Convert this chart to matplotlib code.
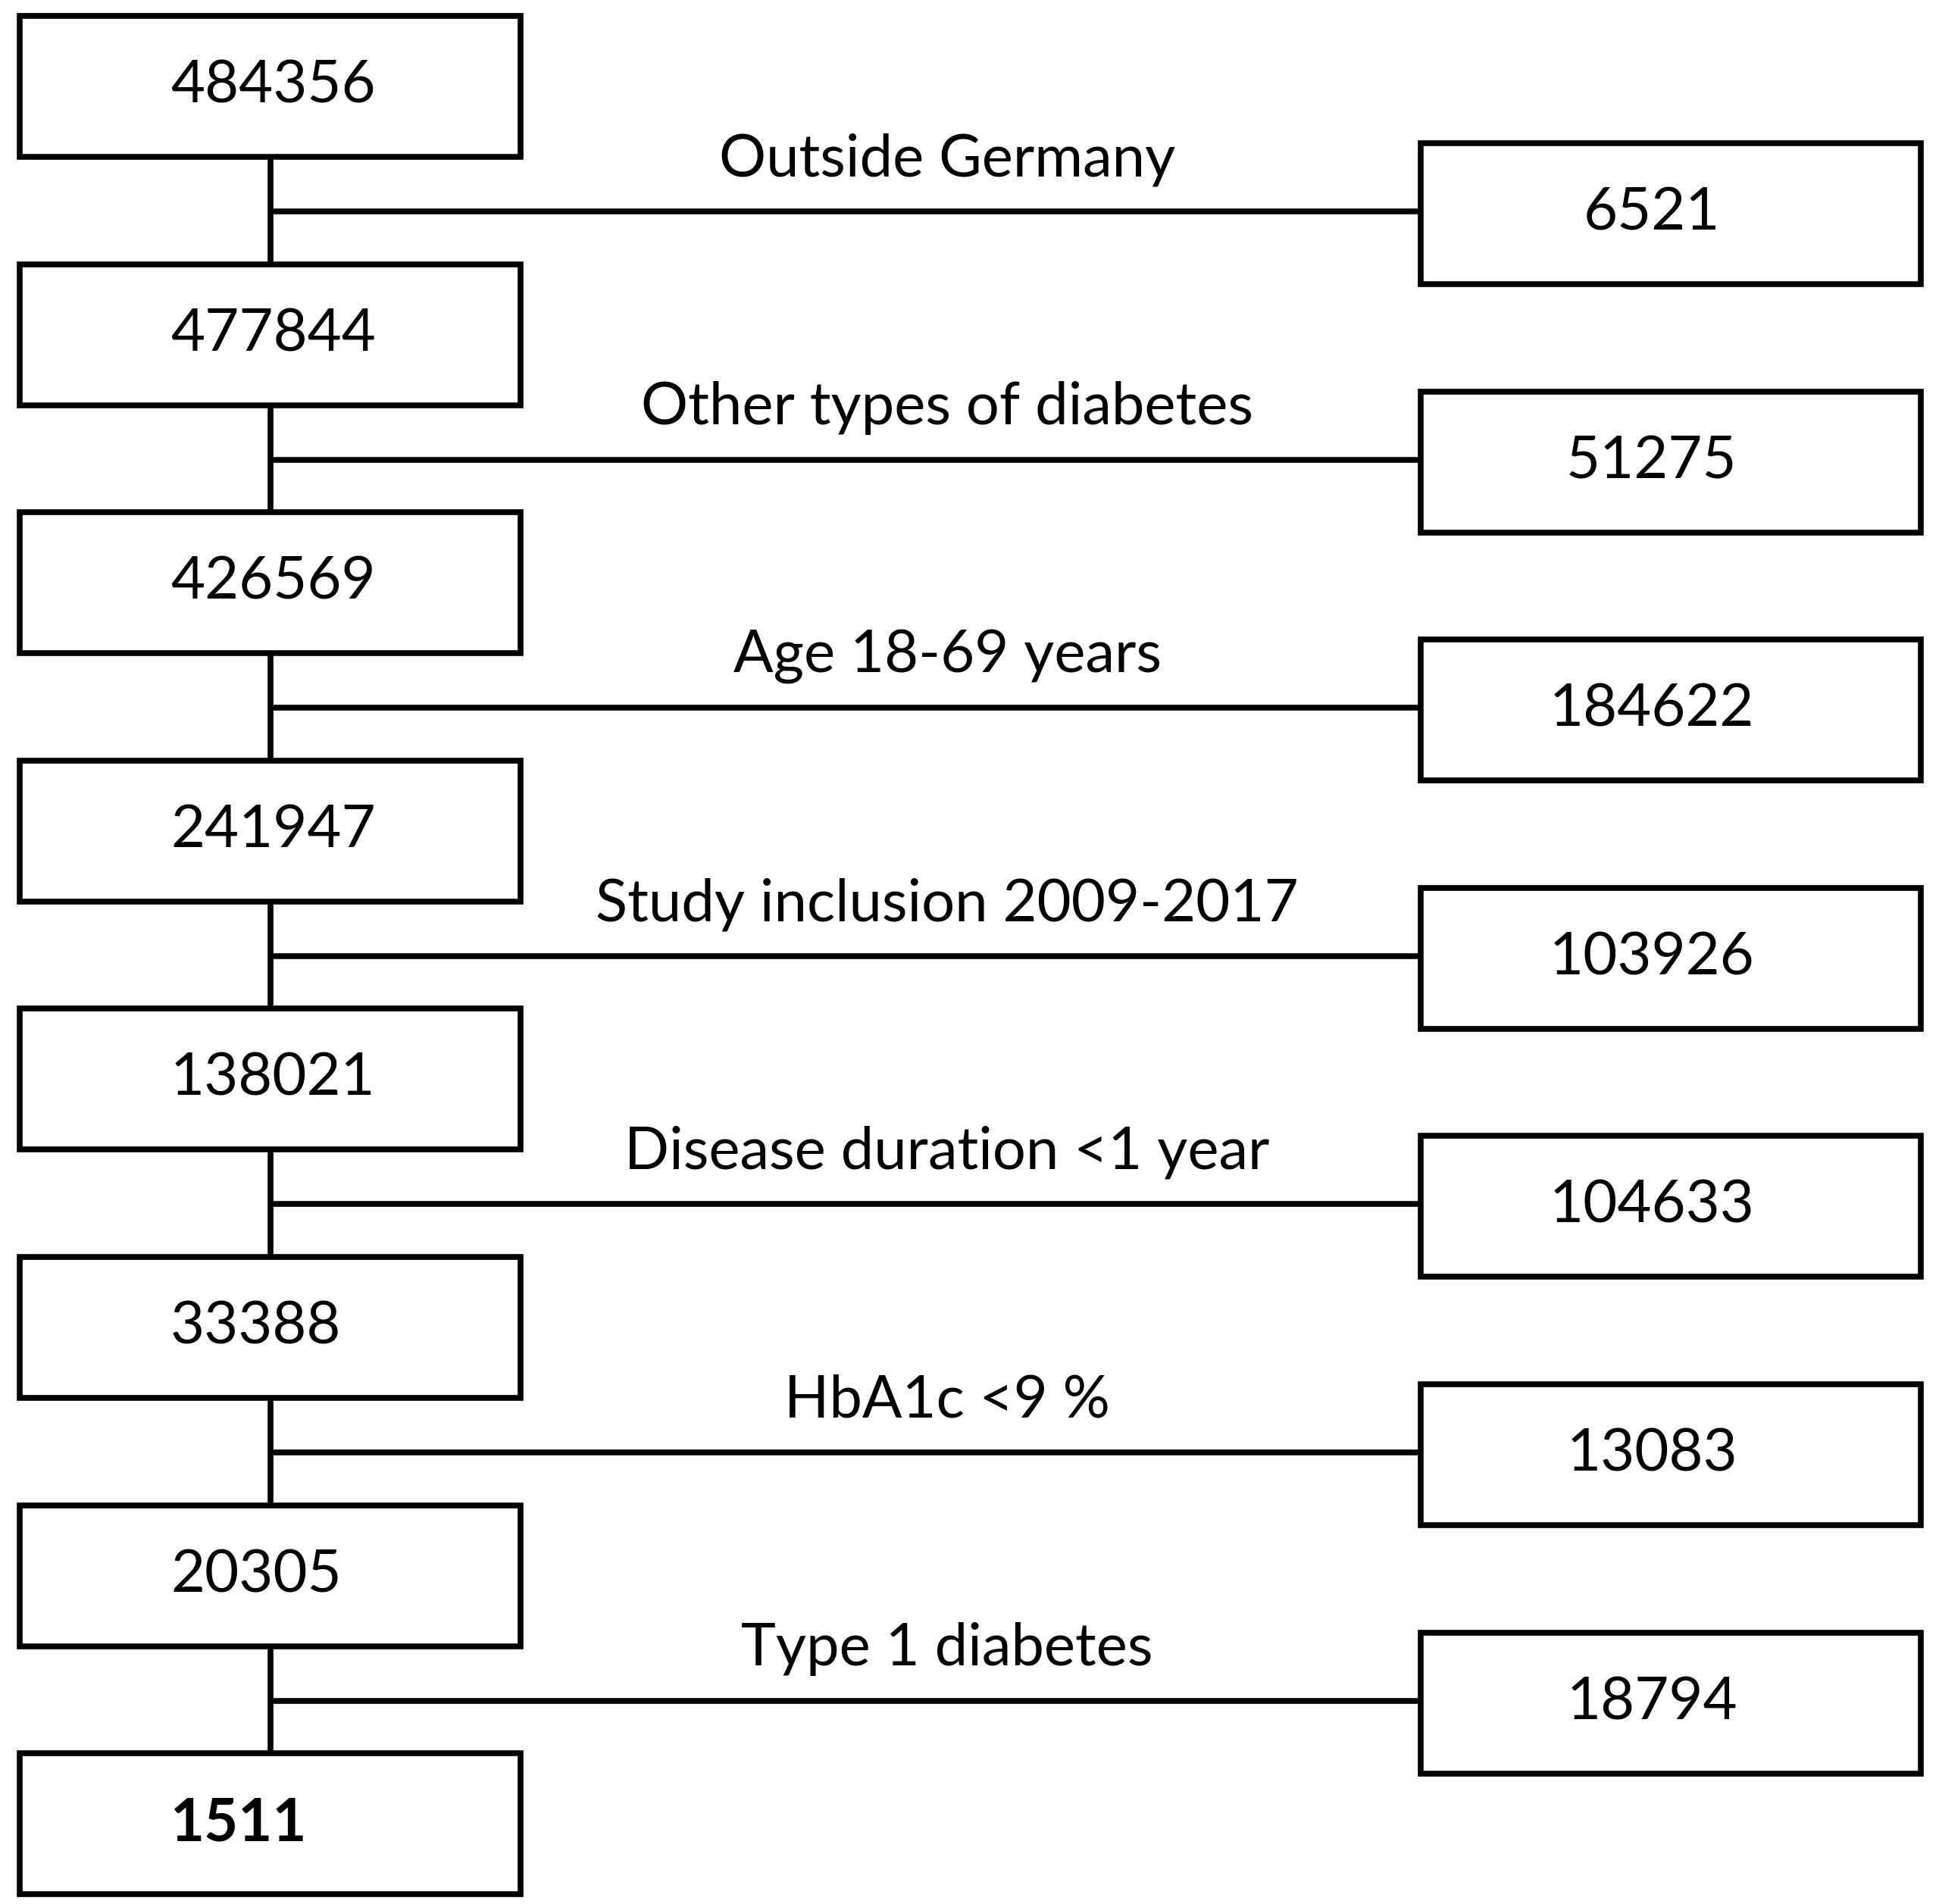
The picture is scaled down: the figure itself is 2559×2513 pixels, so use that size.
# Flow chart of patient selection (boxes + connector lines)
import matplotlib.pyplot as plt
from matplotlib.patches import Rectangle

plt.rcParams['font.family'] = ['Lato', 'DejaVu Sans']

# data
remaining = [484356, 477844, 426569, 241947, 138021, 33388, 20305, 1511]
exclusion_labels = ['Outside Germany', 'Other types of diabetes', 'Age 18-69 years',
                    'Study inclusion 2009-2017', 'Disease duration <1 year',
                    'HbA1c <9 %', 'Type 1 diabetes']
excluded = [6521, 51275, 184622, 103926, 104633, 13083, 18794]

# layout (figure pixels)
W, H = 2559, 2513
row_top0, row_step = 21, 327.6
box_h = 186
left_x0, left_x1 = 26, 687
right_x0, right_x1 = 1875, 2535
trunk_x = 357
lw = 5.5

fig = plt.figure(figsize=(W / 100, H / 100), dpi=100)
ax = fig.add_axes([0, 0, 1, 1])
ax.set_xlim(0, W)
ax.set_ylim(H, 0)
ax.axis('off')

def box(x0, x1, top):
    ax.add_patch(Rectangle((x0, top), x1 - x0, box_h, fill=False,
                           edgecolor='black', linewidth=lw, joinstyle='miter'))

# left column: remaining patients
for i, n in enumerate(remaining):
    top = row_top0 + i * row_step
    box(left_x0, left_x1, top)
    ax.text(225, top + box_h / 2, str(n), fontsize=56, ha='left', va='center',
            fontweight='bold' if i == len(remaining) - 1 else 'normal')
    if i < len(remaining) - 1:
        ax.plot([trunk_x, trunk_x], [top + box_h, top + row_step],
                color='black', lw=lw, solid_capstyle='butt')

# right column: excluded patients
for i, (lab, n) in enumerate(zip(exclusion_labels, excluded)):
    top = row_top0 + i * row_step
    y_line = top + 258
    rtop = top + 168
    ax.plot([trunk_x, right_x0], [y_line, y_line], color='black', lw=lw,
            solid_capstyle='butt')
    box(right_x0, right_x1, rtop)
    ax.text(2180, rtop + box_h / 2, str(n), fontsize=56, ha='center', va='center')
    ax.text(1250, top + 190, lab, fontsize=56, ha='center', va='center')

fig.savefig('out.png', dpi=100, facecolor='white')
